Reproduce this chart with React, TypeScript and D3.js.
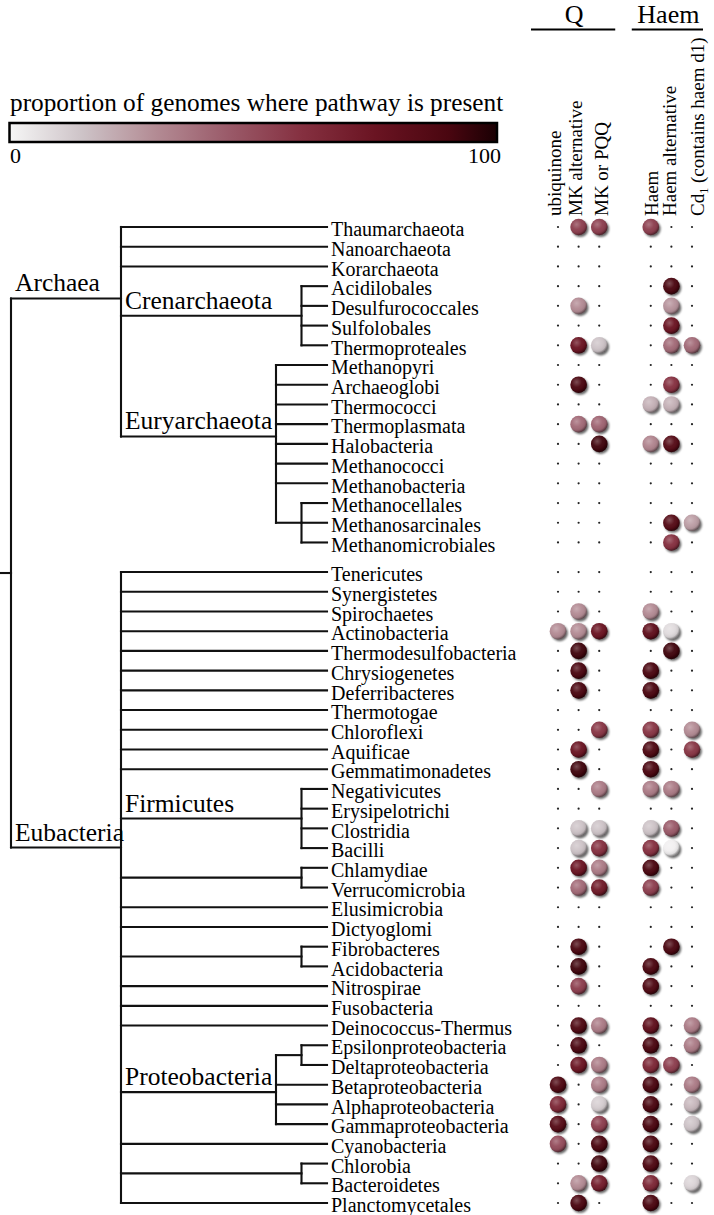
import React from 'react';
import * as d3 from 'd3';

// tree topology: a name, or [clade label, children]
type Item = string | [string, Item[]];

const archaea: Item[] = [
    'Thaumarchaeota', 'Nanoarchaeota', 'Korarchaeota',
    ['Crenarchaeota', ['Acidilobales', 'Desulfurococcales', 'Sulfolobales', 'Thermoproteales']],
    ['Euryarchaeota', ['Methanopyri', 'Archaeoglobi', 'Thermococci', 'Thermoplasmata', 'Halobacteria',
        'Methanococci', 'Methanobacteria', ['', ['Methanocellales', 'Methanosarcinales', 'Methanomicrobiales']]]],
];

const eubacteria: Item[] = [
    'Tenericutes', 'Synergistetes', 'Spirochaetes', 'Actinobacteria', 'Thermodesulfobacteria',
    'Chrysiogenetes', 'Deferribacteres', 'Thermotogae', 'Chloroflexi', 'Aquificae', 'Gemmatimonadetes',
    ['Firmicutes', ['Negativicutes', 'Erysipelotrichi', 'Clostridia', 'Bacilli']],
    ['', ['Chlamydiae', 'Verrucomicrobia']],
    'Elusimicrobia', 'Dictyoglomi',
    ['', ['Fibrobacteres', 'Acidobacteria']],
    'Nitrospirae', 'Fusobacteria', 'Deinococcus-Thermus',
    ['Proteobacteria', [['', ['Epsilonproteobacteria', 'Deltaproteobacteria']],
        'Betaproteobacteria', 'Alphaproteobacteria', 'Gammaproteobacteria']],
    'Cyanobacteria',
    ['', ['Chlorobia', 'Bacteroidetes']],
    'Planctomycetales',
];

const columns = ['ubiquinone', 'MK alternative', 'MK or PQQ', 'Haem', 'Haem alternative', 'Cd1'];
const groups = [{ name: 'Q', cols: [0, 1, 2] }, { name: 'Haem', cols: [3, 4, 5] }];

// % of genomes, in leaf order (0 = absent)
const ubiquinone = [0, 0, 0, 0, 0, 0, 0, 0, 0, 0, 0, 0, 0, 0, 0, 0, 0,
    0, 0, 0, 30, 0, 0, 0, 0, 0, 0, 0, 0, 0, 0, 0, 0, 0, 0, 0, 0, 0, 0, 0, 0, 0, 0, 88, 65, 85, 50, 0, 0, 0];
const mkAlternative = [55, 0, 0, 0, 30, 0, 75, 0, 90, 0, 40, 0, 0, 0, 0, 0, 0,
    0, 0, 30, 30, 92, 90, 90, 0, 0, 75, 92, 0, 0, 15, 15, 75, 40, 0, 0, 90, 92, 55, 0, 88, 90, 75, 0, 0, 0, 0, 0, 30, 90];
const mkOrPqq = [55, 0, 0, 0, 0, 0, 15, 0, 0, 0, 42, 92, 0, 0, 0, 0, 0,
    0, 0, 0, 75, 0, 0, 0, 0, 58, 0, 0, 35, 0, 15, 60, 35, 72, 0, 0, 0, 0, 0, 0, 35, 0, 35, 35, 12, 55, 90, 92, 70, 0];
const haem = [55, 0, 0, 0, 0, 0, 0, 0, 0, 20, 0, 32, 0, 0, 0, 0, 0,
    0, 0, 30, 80, 0, 90, 90, 0, 58, 88, 90, 35, 0, 15, 60, 90, 55, 0, 0, 0, 90, 88, 0, 80, 90, 65, 90, 90, 90, 90, 88, 65, 90];
const haemAlternative = [0, 0, 0, 90, 28, 75, 40, 0, 60, 20, 0, 85, 0, 0, 0, 85, 60,
    0, 0, 0, 8, 92, 0, 0, 0, 0, 0, 0, 35, 0, 45, 2, 0, 0, 0, 0, 90, 0, 0, 0, 0, 0, 55, 0, 0, 0, 0, 0, 0, 0];
const cd1 = [0, 0, 0, 0, 0, 0, 40, 0, 0, 0, 0, 0, 0, 0, 0, 25, 0,
    0, 0, 0, 0, 0, 0, 0, 0, 30, 58, 0, 0, 0, 0, 0, 0, 0, 0, 0, 0, 0, 0, 0, 35, 35, 0, 35, 18, 15, 0, 0, 10, 0];
const matrix = [ubiquinone, mkAlternative, mkOrPqq, haem, haemAlternative, cd1];

const FONT = '"Liberation Serif", "Times New Roman", Times, serif';

interface TNode { name: string; children?: TNode[] }

function toNode(it: Item): TNode {
    if (typeof it === 'string') return { name: it };
    return { name: it[0], children: it[1].map(toNode) };
}

const color = d3.scaleLinear<string>()
    .domain([0, 15, 30, 45, 60, 75, 90, 100])
    .range(['#f6f6f6', '#cdc3c7', '#b38b94', '#9a5a69', '#853040', '#6a1422', '#4a0610', '#1a0003'])
    .clamp(true);

export default function App() {
    const width = 714, height = 1215;

    const root = d3.hierarchy<TNode>({
        name: '',
        children: [
            { name: 'Archaea', children: archaea.map(toNode) },
            { name: 'Eubacteria', children: eubacteria.map(toNode) },
        ],
    }) as any;

    const leaves = root.leaves();
    const y = d3.scaleLinear().domain([0, 49.5]).range([227, 1203]);
    const xByHeight = d3.scaleLinear().domain([0, 2]).range([327, 276]);

    leaves.forEach((l: any, i: number) => {
        const eub = l.ancestors().some((a: any) => a.data.name === 'Eubacteria');
        l.y = y(i + (eub ? 0.5 : 0));
    });
    root.eachAfter((n: any) => {
        if (n.children) n.y = d3.mean(n.children, (c: any) => c.y);
        n.x = n.depth === 0 ? 11 : n.depth === 1 ? 121 : xByHeight(n.height);
    });

    const nodes = root.descendants();
    const inner = nodes.filter((n: any) => n.children);

    const colX = d3.scaleLinear().domain([0, 6.5]).range([558, 692]);
    const slot = [0, 1, 2, 4.5, 5.5, 6.5];
    const labelNudge = [3, 3, 9, 7, 5, 12];
    const groupPad = [[27, 16], [19, 11]];

    const barX0 = 9.5, barX1 = 497;

    return (
        <svg width={width} height={height} style={{ position: 'absolute', left: 0, top: 0, background: '#fff' }}
            fontFamily={FONT}>
            <defs>
                <linearGradient id="bar" x1="0" x2="1" y1="0" y2="0">
                    {d3.range(0, 101, 5).map(v => (
                        <stop key={v} offset={`${v}%`} stopColor={color(v)} />
                    ))}
                </linearGradient>
                <radialGradient id="shade" cx="38%" cy="34%" r="70%">
                    <stop offset="0%" stopColor="#fff" stopOpacity={0.28} />
                    <stop offset="45%" stopColor="#fff" stopOpacity={0.04} />
                    <stop offset="75%" stopColor="#000" stopOpacity={0.08} />
                    <stop offset="100%" stopColor="#000" stopOpacity={0.55} />
                </radialGradient>
                <filter id="blur" x="-50%" y="-50%" width="200%" height="200%">
                    <feGaussianBlur stdDeviation="0.9" />
                </filter>
            </defs>

            {/* legend */}
            <text x={10} y={111} fontSize={25.3}>proportion of genomes where pathway is present</text>
            <rect x={barX0} y={123} width={barX1 - barX0} height={19} fill="url(#bar)" stroke="#000" strokeWidth={2.5} />
            <text x={10} y={163} fontSize={22}>0</text>
            <text x={501} y={163} fontSize={22} textAnchor="end">100</text>

            {/* tree */}
            <g stroke="#111" strokeWidth={2.1} fill="none" strokeLinecap="square">
                <line x1={0} x2={root.x} y1={root.y} y2={root.y} />
                {inner.map((n: any, i: number) => (
                    <g key={i}>
                        <line x1={n.x} x2={n.x} y1={d3.min(n.children, (c: any) => c.y)} y2={d3.max(n.children, (c: any) => c.y)} />
                        {n.children.map((c: any, j: number) => (
                            <line key={j} x1={n.x} x2={c.x} y1={c.y} y2={c.y} />
                        ))}
                    </g>
                ))}
            </g>
            {leaves.map((l: any) => (
                <text key={l.data.name} x={l.x + 4} y={l.y} dy="0.46em" fontSize={20}>{l.data.name}</text>
            ))}
            {inner.filter((n: any) => n.data.name).map((n: any) => (
                <text key={n.data.name} x={n.parent.x + 4} y={n.y - 7} fontSize={25.5}>{n.data.name}</text>
            ))}

            {/* column headers */}
            {groups.map((g, gi) => {
                const a = colX(slot[g.cols[0]]) - groupPad[gi][0];
                const b = colX(slot[g.cols[g.cols.length - 1]]) + groupPad[gi][1];
                return (
                    <g key={g.name}>
                        <line x1={a} x2={b} y1={29.5} y2={29.5} stroke="#000" strokeWidth={2.2} />
                        <text x={(a + b) / 2 + 1} y={23} fontSize={26} textAnchor="middle">{g.name}</text>
                    </g>
                );
            })}
            {columns.map((c, i) => {
                const lx = colX(slot[i]) + labelNudge[i];
                return (
                    <text key={c} transform={`translate(${lx},216) rotate(-90)`} fontSize={19}>
                        {c === 'Cd1' ? (
                            <>
                                <tspan>Cd</tspan>
                                <tspan fontSize={12} dy={4}>1</tspan>
                                <tspan dy={-4}> (contains haem d1)</tspan>
                            </>
                        ) : c}
                    </text>
                );
            })}

            {/* presence matrix */}
            {matrix.map((vals, ci) => (
                <g key={ci}>
                    {leaves.map((l: any, ri: number) => {
                        const v = vals[ri];
                        const cx = colX(slot[ci]);
                        if (!v) return <circle key={ri} cx={cx} cy={l.y} r={1.1} fill="#222" />;
                        return (
                            <g key={ri}>
                                <circle cx={cx + 1.6} cy={l.y + 1.8} r={8.3} fill="#000" opacity={0.6} filter="url(#blur)" />
                                <circle cx={cx} cy={l.y} r={8.3} fill={color(v)} />
                                <circle cx={cx} cy={l.y} r={8.3} fill="url(#shade)" />
                            </g>
                        );
                    })}
                </g>
            ))}
        </svg>
    );
}
